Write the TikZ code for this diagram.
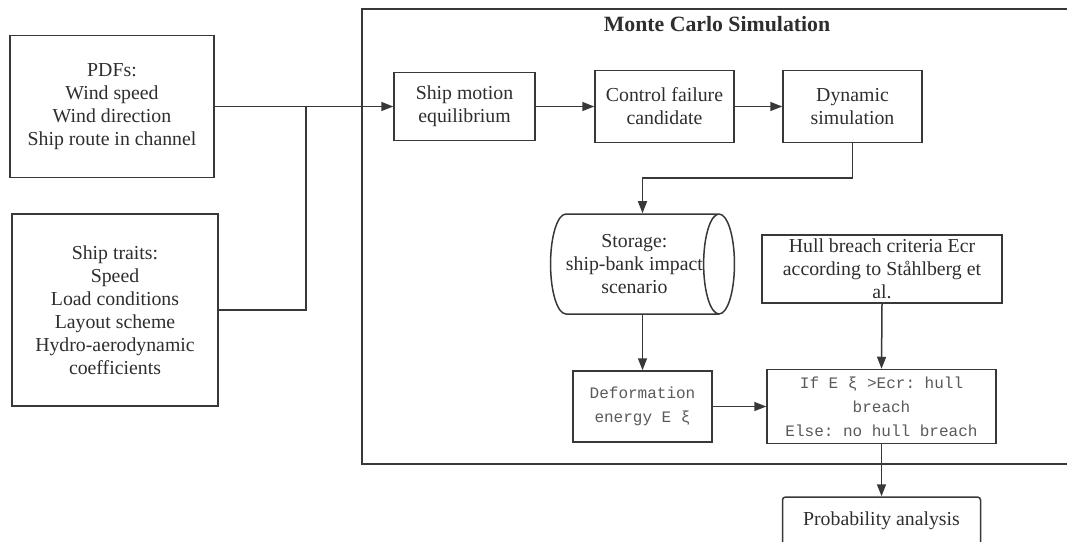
\documentclass[tikz,border=0pt]{standalone}
\usepackage{fontspec}
\setmainfont{Liberation Serif}
\setmonofont{Liberation Mono}
\usetikzlibrary{arrows.meta,shapes.geometric,calc}
\definecolor{lc}{HTML}{383838}
\definecolor{tc}{HTML}{2E2E2E}
\definecolor{mc}{HTML}{5A5A5A}
\begin{document}
\begin{tikzpicture}[x=1pt,y=-1pt,
  box/.style={draw=lc, line width=1.5pt, rectangle, align=center, text=tc,
    font=\fontsize{19.8}{23}\selectfont, inner sep=0pt},
  monobox/.style={box, text=mc, font=\ttfamily\fontsize{16}{24}\selectfont},
  arr/.style={draw=lc, line width=1.5pt, -{Triangle[length=12pt,width=9pt]}},
  ln/.style={draw=lc, line width=1.5pt}]
\clip (0,0) rectangle (1067,541);
\fill[white] (0,0) rectangle (1067,541);

% Monte Carlo frame (right side lies beyond the picture)
\draw[ln] (1075,9) -- (362,9) -- (362,464) -- (1075,464);
\node[text=tc, font=\bfseries\fontsize{21.8}{25}\selectfont] (title) at (717,24) {Monte Carlo Simulation};

% left inputs
\node[box, minimum width=204pt, minimum height=142pt] (pdfs) at (112,106.5)
  {PDFs:\\Wind speed\\Wind direction\\Ship route in channel};
\node[box, minimum width=206pt, minimum height=192pt] (traits) at (115,310)
  {Ship traits:\\Speed\\Load conditions\\Layout scheme\\Hydro-aerodynamic\\coefficients};

% top row
\node[box, minimum width=141pt, minimum height=68pt] (ship) at (464.5,106.5)
  {Ship motion\\equilibrium};
\node[box, minimum width=139pt, minimum height=72pt] (ctrl) at (664.5,106.5)
  {Control failure\\candidate};
\node[box, minimum width=139pt, minimum height=72pt] (dyn) at (852.5,106.5)
  {Dynamic\\simulation};

% storage cylinder
\node[cylinder, draw=lc, line width=1.5pt, shape border rotate=0, shape aspect=0.52,
  minimum width=100pt, minimum height=176pt, align=center, text=tc,
  font=\fontsize{19.8}{23}\selectfont, inner sep=0pt, anchor=shape center] (stor) at (642.5,264)
  {Storage:\\ship-bank impact\\scenario};
\coordinate (storTop) at (stor.shape center |- stor.north);
\coordinate (storBot) at (stor.shape center |- stor.south);

% hull breach criteria
\node[box, minimum width=240pt, minimum height=68pt] (hull) at (882,269)
  {Hull breach criteria Ecr\\according to Ståhlberg et\\al.};

% bottom row
\node[monobox, minimum width=139pt, minimum height=71pt] (def) at (642.5,406.5)
  {Deformation\\energy E ξ};
\node[monobox, minimum width=229pt, minimum height=74pt] (ifb) at (881.5,406.5)
  {If E ξ >Ecr: hull\\breach\\Else: no hull breach};

\node[box, rounded corners=3pt, minimum width=198pt, minimum height=48pt] (prob) at (881.5,521)
  {Probability analysis};

% connectors
\coordinate (j) at (306,106.5);
\draw[arr] (pdfs.east) -- (ship.west);
\draw[ln] (traits.east) -| (j);
\draw[arr] (ship.east) -- (ctrl.west);
\draw[arr] (ctrl.east) -- (dyn.west);
\draw[arr] (dyn.south) |- ($(storTop)+(0,-35)$) -- (storTop);
\draw[arr] (storBot) -- (def.north);
\draw[arr] (hull.south) -- (ifb.north);
\draw[arr] (def.east) -- (ifb.west);
\draw[arr] (ifb.south) -- (prob.north);
\end{tikzpicture}
\end{document}
